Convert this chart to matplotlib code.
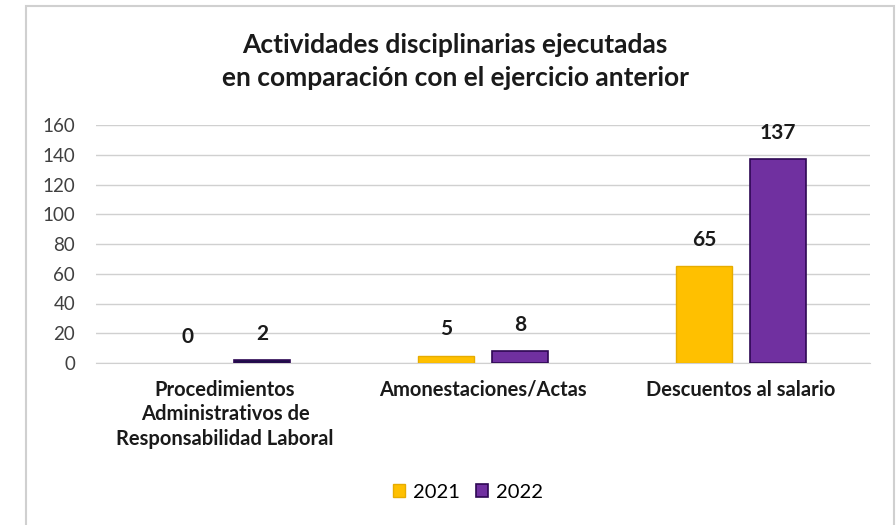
import numpy as np
import matplotlib
matplotlib.use('Agg')
import matplotlib.pyplot as plt
from matplotlib.patches import Rectangle

# Data
categories = ['Procedimientos\nAdministrativos de\nResponsabilidad Laboral',
              'Amonestaciones/Actas',
              'Descuentos al salario']
values_2021 = [0, 5, 65]
values_2022 = [2, 8, 137]
series_names = ['2021', '2022']
yticks = [0, 20, 40, 60, 80, 100, 120, 140, 160]

plt.rcParams['font.family'] = ['Lato', 'DejaVu Sans']

fig = plt.figure(figsize=(8.96, 5.25), dpi=100)
ax = fig.add_axes([96 / 896, 1 - 363 / 525, 774 / 896, 238 / 525])

# chart outer frame
fig.patches.append(Rectangle((26 / 896, -0.05), 868 / 896, 1.05 - 6 / 525,
                             transform=fig.transFigure, fill=False,
                             edgecolor='#d0d0d0', linewidth=1.5))

x = np.arange(len(categories))
w = 0.217
off = 0.1435
b1 = ax.bar(x - off, values_2021, w, color='#FFC000', edgecolor='#E6AC00',
            linewidth=1, label=series_names[0], zorder=3)
b2 = ax.bar(x + off, values_2022, w, color='#7030A0', edgecolor='#2E0854',
            linewidth=1.2, label=series_names[1], zorder=3)
b2[0].set_facecolor('#1a1045')
for rect, v in zip(b1, values_2021):
    if v == 0:
        rect.set_linewidth(0)

for bars, vals in [(b1, values_2021), (b2, values_2022)]:
    for rect, v in zip(bars, vals):
        ax.text(rect.get_x() + rect.get_width() / 2, v + 11, str(v),
                ha='center', va='bottom', fontsize=15, fontweight='bold',
                color='#1a1a1a')

ax.set_xlim(-0.5, 2.5)
ax.set_ylim(0, 160)
ax.set_yticks(yticks)
ax.tick_params(axis='y', length=0, labelsize=13.5, colors='#404040', pad=15)
ax.set_xticks(x)
ax.set_xticklabels(categories, fontsize=14.5, fontweight='bold', color='#1a1a1a',
                   linespacing=1.3)
ax.tick_params(axis='x', length=0, pad=12)
ax.grid(axis='y', color='#d0d0d0', linewidth=1, zorder=0)
for s in ['top', 'right', 'left']:
    ax.spines[s].set_visible(False)
ax.spines['bottom'].set_color('#d0d0d0')

fig.text(455 / 896, 1 - 45 / 525, 'Actividades disciplinarias ejecutadas',
         ha='center', va='center', fontsize=19, fontweight='bold', color='#1a1a1a')
fig.text(455 / 896, 1 - 78 / 525, 'en comparación con el ejercicio anterior',
         ha='center', va='center', fontsize=19, fontweight='bold', color='#1a1a1a')

fig.legend(handles=[b1[1], b2[1]], labels=series_names, loc='center',
           bbox_to_anchor=(468 / 896, 1 - 492 / 525), ncol=2, frameon=False,
           fontsize=14.5, handlelength=0.6, handleheight=0.6, columnspacing=0.8,
           handletextpad=0.4)

fig.savefig('out.png', dpi=100)
